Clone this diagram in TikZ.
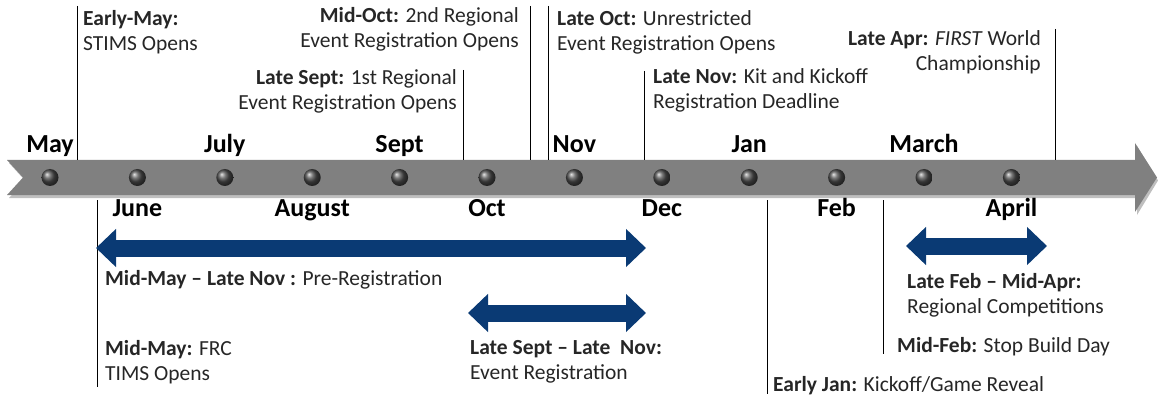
\documentclass[tikz,border=0pt]{standalone}
\usepackage{fontspec}
\setmainfont{Carlito}
\usetikzlibrary{arrows.meta, positioning}
\definecolor{bandgray}{RGB}{128,128,128}
\definecolor{spanblue}{RGB}{10,58,116}
\definecolor{textgray}{RGB}{38,38,38}

\begin{document}
\begin{tikzpicture}[
			x=1pt, y=-1pt,
			every node/.style={font=\fontsize{21.5}{25.5}\selectfont, text=textgray},
			month/.style={font=\fontsize{26}{30}\selectfont\bfseries, text=black, inner sep=0pt, anchor=base},
			dot/.style={circle, minimum size=17pt, inner sep=0pt, shading=ball, ball color=black!70},
			noteL/.style={inner sep=0pt, align=left, anchor=north west},
			noteR/.style={inner sep=0pt, align=right, anchor=north east},
			tick/.style={black, line width=0.9pt},
			span/.style={spanblue, line width=17pt, {Triangle[width=37pt, length=20pt]}-{Triangle[width=37pt, length=20pt]}},
			]
			
			\useasboundingbox (0,0) rectangle (1158,398);
			
			% timeline band
			\fill[black, opacity=0.25] (9,163) -- (1137,163) -- (1137,146) -- (1158,180.5) -- (1137,215) -- (1137,198) -- (9,198) -- (25,180.5) -- cycle;
			\fill[bandgray] (7,160) -- (1135,160) -- (1135,143) -- (1157,177.5) -- (1135,212) -- (1135,195) -- (7,195) -- (23,177.5) -- cycle;
			
			\foreach \i in {1,...,12}
			\node[dot] (d\i) at ({50+87.4*(\i-1)},177.5) {};
			
			% months above and below
			\foreach \i/\m in {1/May, 3/July, 5/Sept, 7/Nov, 9/Jan, 11/March}
			\node[month] (m\i) at ([yshift=24.5pt]d\i) {\m};
			\foreach \i/\m in {2/June, 4/August, 6/Oct, 8/Dec, 10/Feb, 12/April}
			\node[month] (m\i) at ([yshift=-38.5pt]d\i) {\m};
			
			% top notes
			\node[noteL] (stims) at (83,10) {\textbf{Early-May:}\\STIMS Opens};
			\node[noteR] (second) at (519,7) {\textbf{Mid-Oct:} 2nd Regional\\Event Registration Opens};
			\node[noteR] (first) at (457,69) {\textbf{Late Sept:} 1st Regional\\Event Registration Opens};
			\node[noteL] (unres) at (557,10) {\textbf{Late Oct:} Unrestricted\\Event Registration Opens};
			\node[noteL] (kit) at (653,68) {\textbf{Late Nov:} Kit and Kickoff\\Registration Deadline};
			\node[noteR] (champ) at (1041,30) {\textbf{Late Apr:} \textit{FIRST} World\\Championship};
			
			% bottom notes
			\node[noteL] (prereg) at (105,270) {\textbf{Mid-May -- Late Nov :} Pre-Registration};
			\node[noteL] (tims) at (105,340) {\textbf{Mid-May:} FRC\\TIMS Opens};
			\node[noteL] (eventreg) at (470,340) {\textbf{Late Sept -- Late\ \ Nov:}\\Event Registration};
			\node[noteL] (kickoff) at (773,376) {\textbf{Early Jan:} Kickoff/Game Reveal};
			\node[noteL] (stop) at (897,337) {\textbf{Mid-Feb:} Stop Build Day};
			\node[noteL] (regional) at (907,273) {\textbf{Late Feb -- Mid-Apr:}\\Regional Competitions};
			
			% tick lines
			\draw[tick] (77,6) -- (77,160);
			\draw[tick] (463,70) -- (463,160);
			\draw[tick] (530,6) -- (530,160);
			\draw[tick] (548,6) -- (548,160);
			\draw[tick] (644,71) -- (644,160);
			\draw[tick] (1055,29) -- (1055,160);
			\draw[tick] (97,200) -- (97,387);
			\draw[tick] (767,200) -- (767,394);
			\draw[tick] (883,200) -- (883,354);
			
			% spans
			\draw[span] (96,248) -- (646,248);
			\draw[span] (468,313) -- (646,313);
			\draw[span] (906,246) -- (1047,246);
			
		\end{tikzpicture}
\end{document}
